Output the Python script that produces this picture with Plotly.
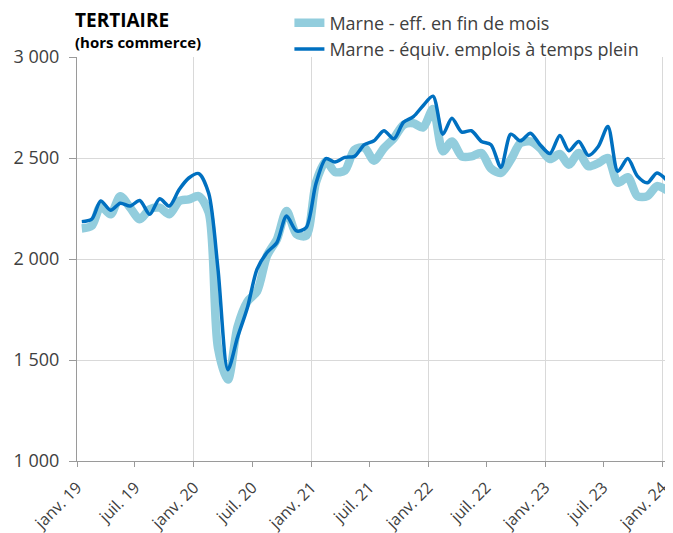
import pandas as pd
import plotly.graph_objects as go

# Monthly values, janv. 2019 -> janv. 2024
eff_fin_mois = [
    2151, 2164, 2262, 2221, 2311, 2254, 2197, 2246, 2254, 2221, 2287, 2295,
    2311, 2230, 1560, 1403, 1664, 1790, 1840, 2016, 2098, 2238, 2123, 2115,
    2380, 2484, 2431, 2438, 2541, 2552, 2487, 2549, 2598, 2664, 2672, 2651,
    2742, 2533, 2582, 2508, 2508, 2525, 2448, 2426, 2492, 2574, 2582, 2549,
    2495, 2520, 2467, 2525, 2459, 2475, 2500, 2377, 2405, 2311, 2311, 2361,
    2340,
]
equiv_etp = [
    2185, 2197, 2287, 2241, 2276, 2262, 2290, 2221, 2298, 2262, 2344, 2401,
    2423, 2325, 1950, 1452, 1612, 1760, 1950, 2032, 2082, 2213, 2139, 2155,
    2375, 2497, 2480, 2503, 2508, 2566, 2585, 2635, 2595, 2677, 2705, 2759,
    2806, 2618, 2697, 2628, 2635, 2582, 2566, 2454, 2618, 2585, 2623, 2566,
    2522, 2612, 2536, 2582, 2513, 2557, 2656, 2434, 2497, 2410, 2377, 2426,
    2389,
]
x_labels = ["janv. 19", "juil. 19", "janv. 20", "juil. 20", "janv. 21", "juil. 21",
            "janv. 22", "juil. 22", "janv. 23", "juil. 23", "janv. 24"]
y_ticks = [1000, 1500, 2000, 2500, 3000]
y_labels = ["1 000", "1 500", "2 000", "2 500", "3 000"]

# points sit in the middle of each month (Excel date axis, "between tick marks")
months = pd.date_range("2019-01-01", periods=len(eff_fin_mois), freq="MS")
x = months + pd.Timedelta(days=15)
tick_dates = pd.date_range("2019-01-01", "2024-01-01", freq="6MS")

FONT = "Open Sans"
TXT = "#404040"
AXIS = "#9a9a9a"
GRID = "#d9d9d9"

fig = go.Figure()

fig.add_trace(go.Scatter(
    x=x, y=eff_fin_mois, mode="lines",
    name="Marne - eff. en fin de mois",
    line=dict(color="#92CDDD", width=8.5, shape="spline", smoothing=0.8),
))
fig.add_trace(go.Scatter(
    x=x, y=equiv_etp, mode="lines",
    name="Marne - équiv. emplois à temps plein",
    line=dict(color="#0070C0", width=3.5, shape="spline", smoothing=0.8),
))

# page body adds an 8px offset, so the figure is 8px smaller than the window
fig.update_layout(
    width=665, height=525,
    margin=dict(l=69, r=1, t=49, b=72, autoexpand=False),
    plot_bgcolor="white", paper_bgcolor="white",
    font=dict(family=FONT, size=17, color=TXT),
    showlegend=True,
    legend=dict(
        x=0.357, y=1.13, xanchor="left", yanchor="top",
        bgcolor="rgba(0,0,0,0)", borderwidth=0,
        font=dict(family=FONT, size=18, color=TXT),
        tracegroupgap=0, itemwidth=30,
    ),
    xaxis=dict(
        type="date", automargin=False,
        range=["2019-01-01", "2024-02-01"],
        tickvals=tick_dates, ticktext=x_labels,
        tickangle=-45,
        ticks="outside", ticklen=5, tickcolor=AXIS,
        ticklabelstandoff=5,
        showline=True, linecolor=AXIS, linewidth=1,
        showgrid=False, zeroline=False,
        minor=dict(dtick="M12", tick0="2019-01-01", showgrid=True,
                   gridcolor=GRID, gridwidth=1, ticks=""),
        tickfont=dict(family=FONT, size=16, color=TXT),
    ),
    yaxis=dict(
        automargin=False,
        range=[1000, 3000],
        tickvals=y_ticks, ticktext=y_labels,
        ticks="outside", ticklen=7, tickcolor=AXIS,
        ticklabelstandoff=6,
        showline=True, linecolor=AXIS, linewidth=1,
        showgrid=True, gridcolor=GRID, gridwidth=1, zeroline=False,
        tickfont=dict(family=FONT, size=18, color=TXT),
    ),
    annotations=[
        dict(text="<b>TERTIAIRE</b>", xref="paper", yref="paper",
             x=0, y=1.128, xanchor="left", yanchor="top", showarrow=False,
             xshift=-4, font=dict(family=FONT, size=19, color="black")),
        dict(text="<b>(hors commerce)</b>", xref="paper", yref="paper",
             x=0, y=1.068, xanchor="left", yanchor="top", showarrow=False,
             xshift=-4, font=dict(family=FONT, size=15, color="black")),
    ],
)

fig.write_html("out.html")
